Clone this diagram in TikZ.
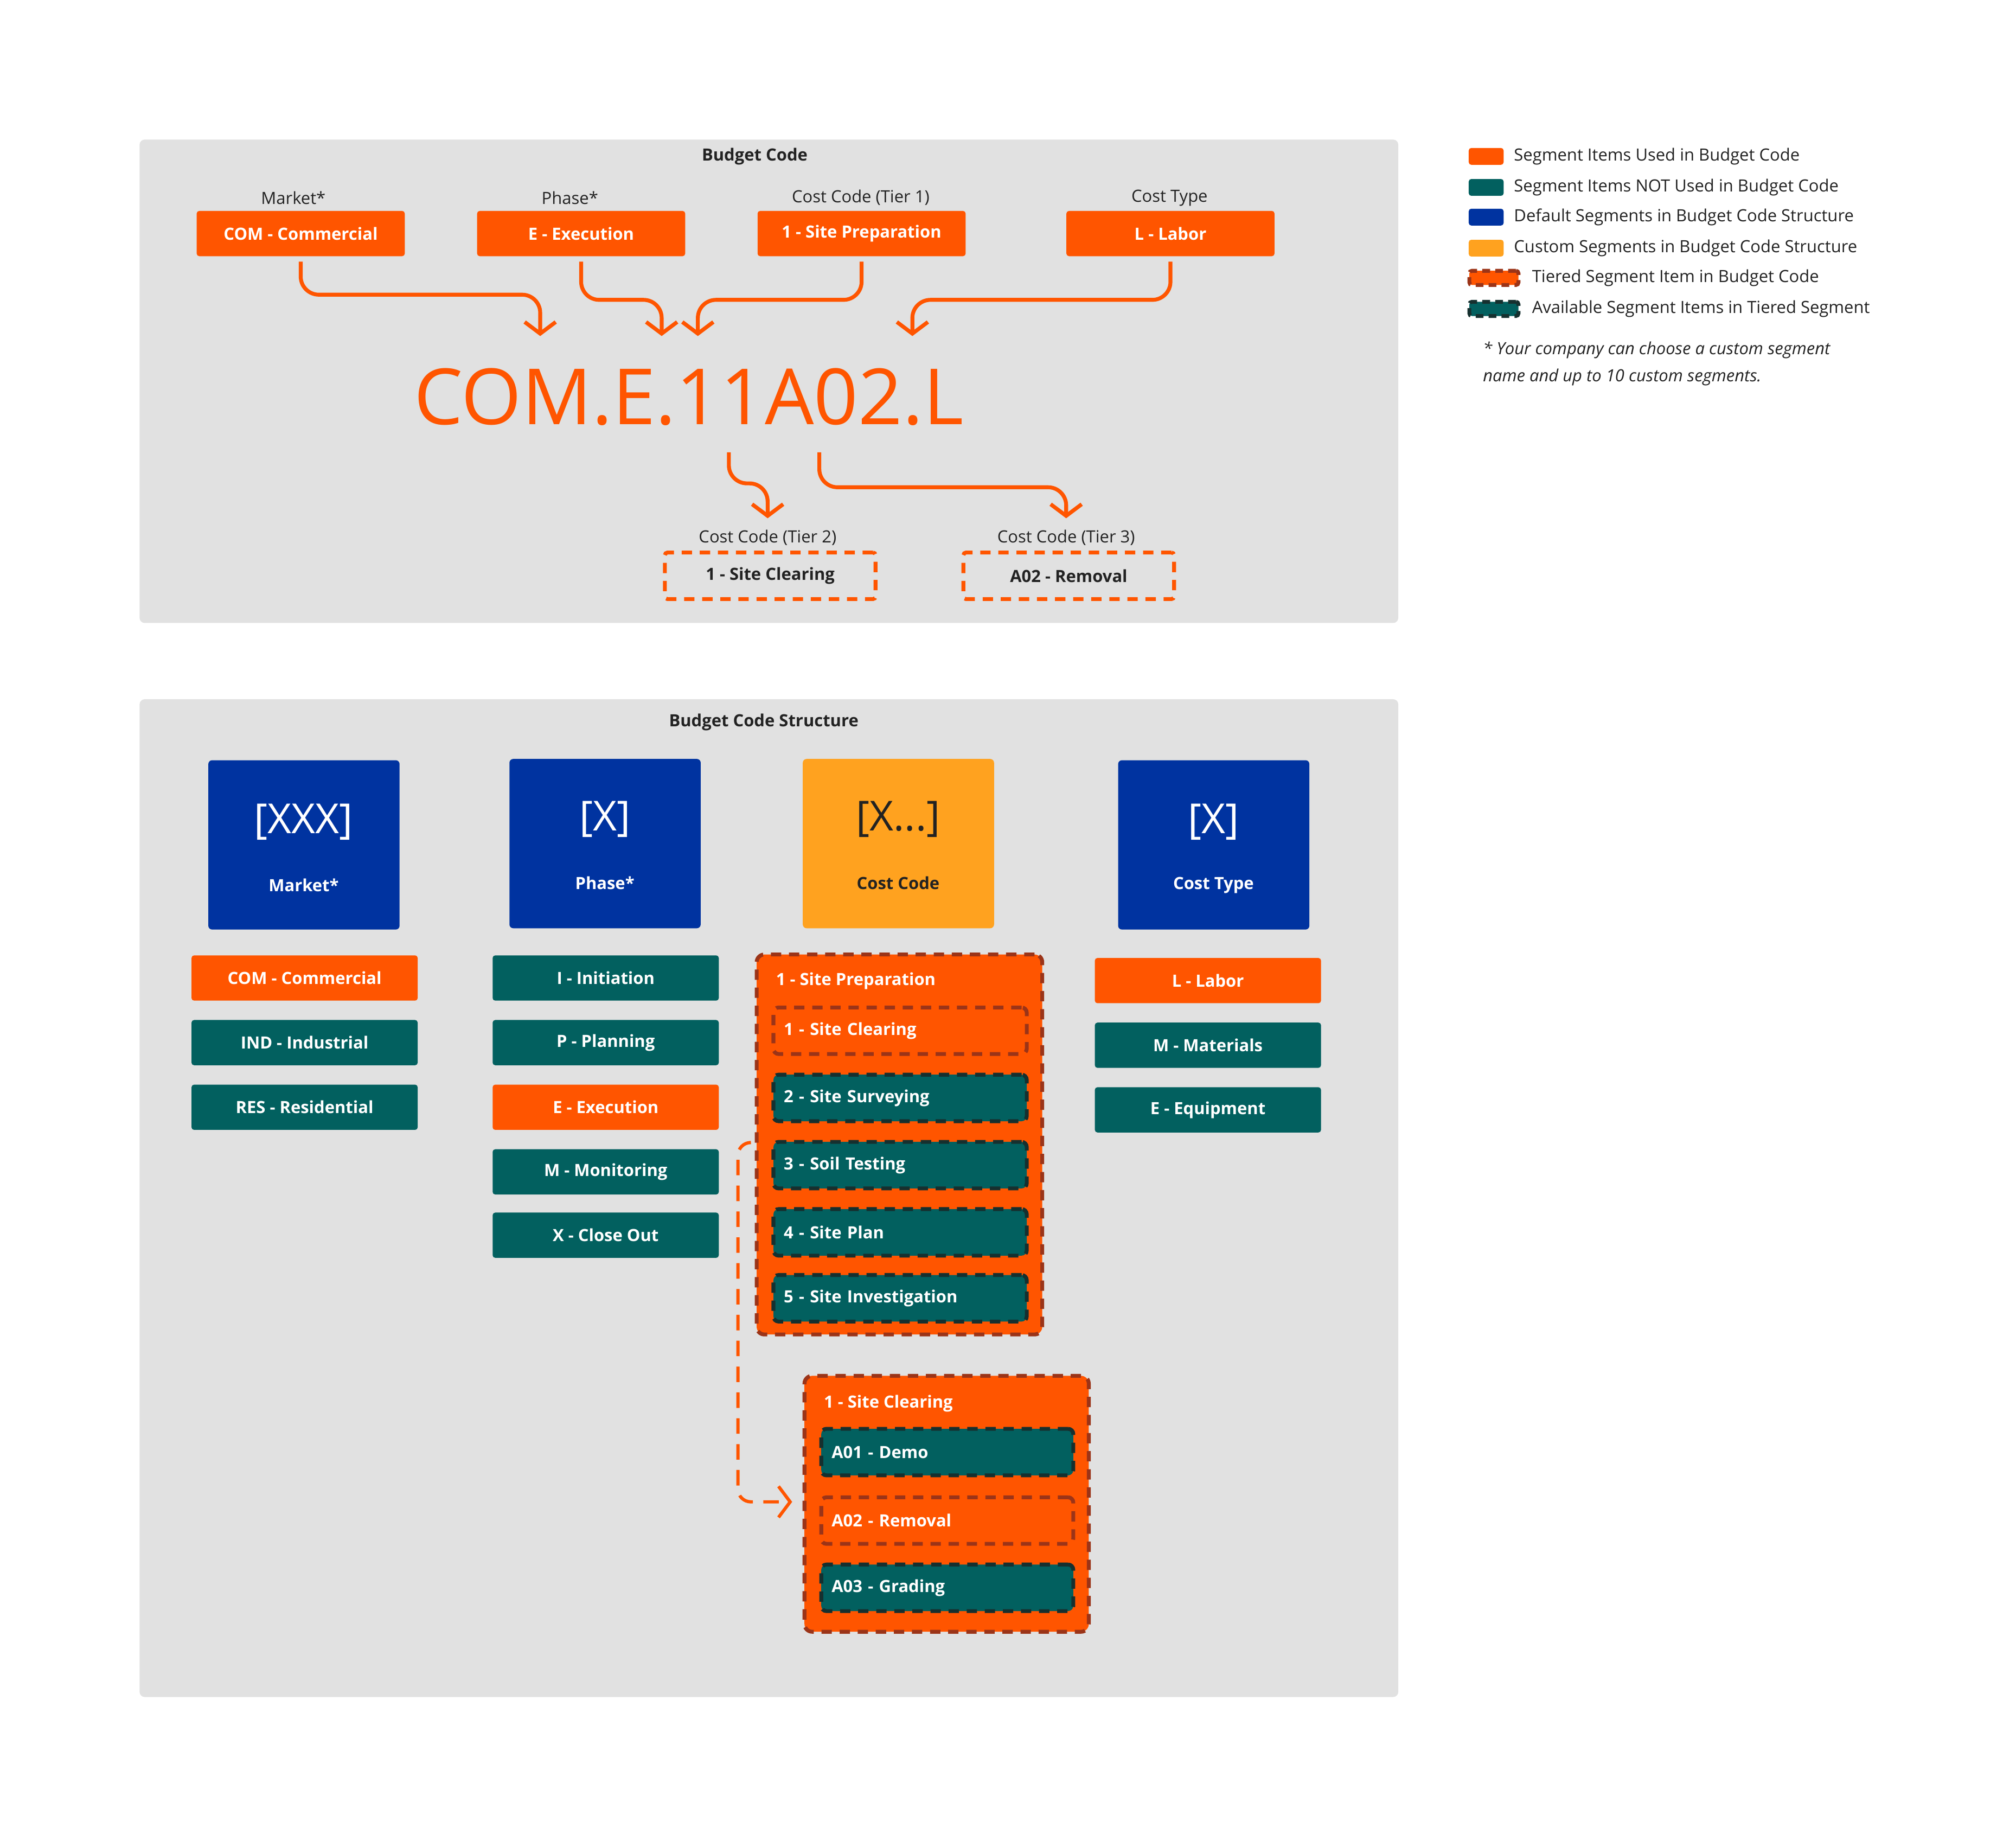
\documentclass[tikz,border=0pt]{standalone}
\usepackage{fontspec}
\setmainfont{Open Sans}
\usetikzlibrary{arrows.meta}
\definecolor{org}{HTML}{FF5500}
\definecolor{tea}{HTML}{02605F}
\definecolor{blu}{HTML}{0033A0}
\definecolor{yel}{HTML}{FFA21F}
\definecolor{bgg}{HTML}{E1E1E1}
\definecolor{dred}{HTML}{9B3418}
\definecolor{dtea}{HTML}{16302F}
\definecolor{txt}{HTML}{222222}
\tikzset{
  panel/.style={fill=bgg, rounded corners=4pt},
  item/.style={rounded corners=2pt, minimum width=175pt, minimum height=35pt, inner sep=0pt, text=white, font=\fontsize{13}{15}\selectfont\bfseries, anchor=north west},
  topitem/.style={item, minimum width=161pt, fill=org},
  lbl/.style={font=\fontsize{13}{15}\selectfont, text=txt},
  ttl/.style={font=\fontsize{13}{15}\selectfont\bfseries, text=txt},
  dsh/.style={line width=3pt, dash pattern=on 8pt off 6pt},
  tier/.style={rounded corners=4pt, minimum width=196pt, minimum height=36pt, text width=180pt, inner xsep=8pt, inner ysep=0pt, align=left, text=white, font=\fontsize{13}{15}\selectfont\bfseries, anchor=north west},
  tor/.style={tier, fill=org, draw=dred, dsh},
  tte/.style={tier, fill=tea, draw=dtea, dsh},
  seg/.style={rounded corners=3pt, minimum width=148pt, minimum height=131pt, inner sep=0pt, anchor=north west},
  conn/.style={draw=org, line width=3pt, rounded corners=14pt, -{Straight Barb[length=9pt,width=24pt]}},
  leg/.style={font=\fontsize{13}{15}\selectfont, text=txt, anchor=west},
  sw/.style={rounded corners=2pt, minimum width=27pt, minimum height=13pt, inner sep=0pt}
}
\begin{document}
\begin{tikzpicture}[x=1pt,y=-1pt]
\useasboundingbox[fill=white] (0,0) rectangle (1560,1414);
% ---------- top panel
\fill[panel] (108,108) rectangle (1082,482);
\node[ttl] (t1) at (584,121) {Budget Code};
\node[lbl] (lm) at (227,153) {Market*};
\node[lbl] (lp) at (441,153) {Phase*};
\node[lbl] (lc) at (666,153) {Cost Code (Tier 1)};
\node[lbl] (lt) at (905,153) {Cost Type};
\node[topitem] (com) at (152,163) {COM - Commercial};
\node[topitem] (exe) at (369,163) {E - Execution};
\node[topitem] (sp) at (586,163) {1 - Site Preparation};
\node[topitem] (lab) at (825,163) {L - Labor};
\node[text=org, font=\fontsize{60}{60}\selectfont] (code) at (533,307) {COM.E.11A02.L};
\coordinate (a1) at (418,260); \coordinate (a2) at (512,260);
\coordinate (a3) at (540,260); \coordinate (a4) at (706,260);
\draw[conn] (com.south) ++(0,4) |- (418,228) -- (a1);
\draw[conn] (exe.south) ++(0,4) |- (512,232) -- (a2);
\draw[conn] (sp.south) ++(0,4) |- (540,232) -- (a3);
\draw[conn] (lab.south) ++(0,4) |- (706,232) -- (a4);
\coordinate (s1) at (564,350); \coordinate (s2) at (634,350);
\coordinate (b1) at (594,401); \coordinate (b2) at (825,401);
\draw[conn] (s1) |- (594,374) -- (b1);
\draw[conn] (s2) |- (825,377) -- (b2);
\node[lbl] (l2) at (594,416) {Cost Code (Tier 2)};
\node[lbl] (l3) at (825,416) {Cost Code (Tier 3)};
\node[item, minimum width=163pt, minimum height=36pt, fill=bgg, draw=org, dsh, text=txt] (sc) at (513,426) {1 - Site Clearing};
\node[item, minimum width=163pt, minimum height=36pt, fill=bgg, draw=org, dsh, text=txt] (rm) at (744,426) {A02 - Removal};
% ---------- legend
\node[sw, fill=org] (g1) at (1150,121) {};
\node[sw, fill=tea] (g2) at (1150,145) {};
\node[sw, fill=blu] (g3) at (1150,168) {};
\node[sw, fill=yel] (g4) at (1150,192) {};
\node[sw, minimum width=38pt, minimum height=11pt, fill=org, draw=dred, line width=3pt, dash pattern=on 6pt off 4pt] (g5) at (1156,215) {};
\node[sw, minimum width=38pt, minimum height=11pt, fill=tea, draw=dtea, line width=3pt, dash pattern=on 6pt off 4pt] (g6) at (1156,239) {};
\node[leg] at (1168,121) {Segment Items Used in Budget Code};
\node[leg] at (1168,145) {Segment Items NOT Used in Budget Code};
\node[leg] at (1168,168) {Default Segments in Budget Code Structure};
\node[leg] at (1168,192) {Custom Segments in Budget Code Structure};
\node[leg] at (1182,215) {Tiered Segment Item in Budget Code};
\node[leg] at (1182,239) {Available Segment Items in Tiered Segment};
\node[leg, font=\fontsize{13}{21}\selectfont\itshape, align=left, anchor=north west] (note) at (1144,261) {* Your company can choose a custom segment\\name and up to 10 custom segments.};
% ---------- bottom panel
\fill[panel] (108,541) rectangle (1082,1313);
\node[ttl] (t2) at (591,559) {Budget Code Structure};
\node[seg, fill=blu] (s1b) at (161,588) {};
\node[seg, fill=blu] (s2b) at (394,587) {};
\node[seg, fill=yel] (s3b) at (621,587) {};
\node[seg, fill=blu] (s4b) at (865,588) {};
\node[white, font=\fontsize{32}{32}\selectfont] at (235,636) {[XXX]};
\node[white, font=\fontsize{13}{15}\selectfont\bfseries] at (235,685) {Market*};
\node[white, font=\fontsize{32}{32}\selectfont] at (468,634) {[X]};
\node[white, font=\fontsize{13}{15}\selectfont\bfseries] at (468,683) {Phase*};
\node[text=txt, font=\fontsize{32}{32}\selectfont] at (695,634) {[X...]};
\node[text=txt, font=\fontsize{13}{15}\selectfont\bfseries] at (695,683) {Cost Code};
\node[white, font=\fontsize{32}{32}\selectfont] at (939,636) {[X]};
\node[white, font=\fontsize{13}{15}\selectfont\bfseries] at (939,685) {Cost Type};
% col1
\node[item, fill=org] (c1a) at (148,739) {COM - Commercial};
\node[item, fill=tea] (c1b) at (148,789) {IND - Industrial};
\node[item, fill=tea] (c1c) at (148,839) {RES - Residential};
% col2
\node[item, fill=tea] (c2a) at (381,739) {I - Initiation};
\node[item, fill=tea] (c2b) at (381,789) {P - Planning};
\node[item, fill=org] (c2c) at (381,839) {E - Execution};
\node[item, fill=tea] (c2d) at (381,889) {M - Monitoring};
\node[item, fill=tea] (c2e) at (381,938) {X - Close Out};
% col4
\node[item, fill=org] (c4a) at (847,741) {L - Labor};
\node[item, fill=tea] (c4b) at (847,791) {M - Materials};
\node[item, fill=tea] (c4c) at (847,841) {E - Equipment};
% cost code container
\node[rounded corners=6pt, fill=org, draw=dred, dsh, minimum width=221pt, minimum height=294pt, anchor=north west] (cc1) at (584,737) {};
\node[white, font=\fontsize{13}{15}\selectfont\bfseries, anchor=west] at (597,759) {1 - Site Preparation};
\node[tor] (i1) at (597,778) {1 - Site Clearing};
\node[tte] (i2) at (597,830) {2 - Site Surveying};
\node[tte] (i3) at (597,882) {3 - Soil Testing};
\node[tte] (i4) at (597,934) {4 - Site Plan};
\node[tte] (i5) at (597,985) {5 - Site Investigation};
\node[rounded corners=6pt, fill=org, draw=dred, dsh, minimum width=220pt, minimum height=198pt, anchor=north west] (cc2) at (621,1063) {};
\node[white, font=\fontsize{13}{15}\selectfont\bfseries, anchor=west] at (634,1086) {1 - Site Clearing};
\node[tte, minimum width=195pt, text width=179pt] (j1) at (634,1104) {A01 - Demo};
\node[tor, minimum width=195pt, text width=179pt] (j2) at (634,1157) {A02 - Removal};
\node[tte, minimum width=195pt, text width=179pt] (j3) at (634,1209) {A03 - Grading};
\coordinate (d0) at (580,884);
\coordinate (d1) at (613,1162);
\draw[conn, dash pattern=on 12pt off 8pt, line width=2.5pt, rounded corners=10pt] (d0) -| (571,1162) -- (d1);
\end{tikzpicture}
\end{document}
